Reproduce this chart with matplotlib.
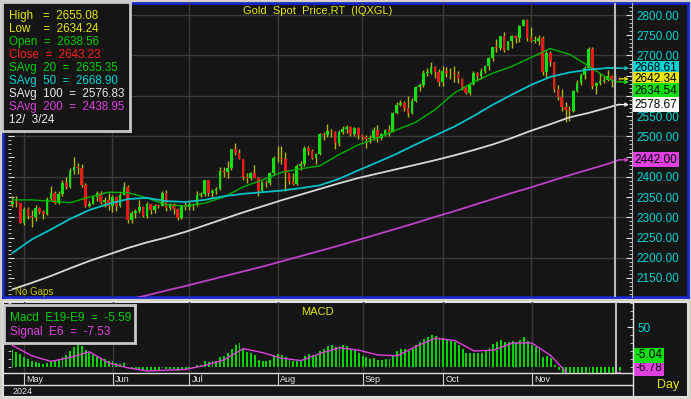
import numpy as np
import pandas as pd
import matplotlib
matplotlib.use('Agg')
import matplotlib.pyplot as plt
from matplotlib.ticker import MultipleLocator

plt.rcParams['font.family'] = ['Liberation Sans', 'DejaVu Sans']

W, H = 691, 399

# ---- data (daily bars, gold spot) ----
dates = pd.bdate_range('2024-04-26', '2024-12-04')

opens = [2332, 2337, 2335, 2286, 2320, 2303, 2301, 2324, 2314, 2309,
         2346, 2360, 2336, 2358, 2386, 2376, 2415, 2425, 2421, 2379,
         2329, 2334, 2351, 2361, 2338, 2343, 2327, 2350, 2327, 2355,
         2375, 2294, 2311, 2316, 2325, 2303, 2333, 2319, 2329, 2328,
         2360, 2322, 2334, 2320, 2298, 2327, 2326, 2332, 2330, 2356,
         2357, 2392, 2359, 2364, 2371, 2415, 2411, 2422, 2469, 2459,
         2445, 2400, 2396, 2409, 2398, 2365, 2387, 2384, 2410, 2447,
         2446, 2443, 2409, 2390, 2383, 2427, 2431, 2472, 2465, 2447,
         2456, 2507, 2504, 2514, 2512, 2484, 2512, 2518, 2524, 2505,
         2521, 2503, 2499, 2493, 2495, 2516, 2497, 2506, 2516, 2512,
         2558, 2578, 2582, 2569, 2559, 2587, 2622, 2628, 2657, 2657,
         2672, 2658, 2634, 2662, 2657, 2656, 2653, 2643, 2622, 2608,
         2630, 2656, 2649, 2662, 2674, 2693, 2721, 2719, 2748, 2714,
         2736, 2747, 2743, 2774, 2788, 2744, 2736, 2736, 2742, 2659,
         2707, 2684, 2618, 2598, 2572, 2565, 2563, 2611, 2631, 2651,
         2670, 2715, 2624, 2633, 2638, 2639, 2650, 2638.56, 2643]
highs = [2352, 2353, 2336, 2326, 2326, 2319, 2330, 2326, 2318, 2351,
         2378, 2364, 2365, 2393, 2400, 2422, 2450, 2433, 2432, 2385,
         2341, 2353, 2364, 2364, 2351, 2360, 2354, 2352, 2361, 2388,
         2380, 2316, 2320, 2342, 2327, 2337, 2333, 2334, 2332, 2365,
         2368, 2335, 2336, 2323, 2330, 2339, 2338, 2335, 2364, 2363,
         2392, 2393, 2370, 2375, 2424, 2425, 2440, 2469, 2483, 2470,
         2445, 2410, 2412, 2430, 2400, 2390, 2393, 2411, 2451, 2477,
         2477, 2461, 2410, 2410, 2431, 2438, 2476, 2477, 2469, 2460,
         2509, 2510, 2531, 2519, 2513, 2517, 2525, 2528, 2525, 2524,
         2524, 2506, 2503, 2504, 2523, 2529, 2509, 2518, 2527, 2560,
         2586, 2590, 2587, 2600, 2595, 2625, 2632, 2664, 2670, 2685,
         2674, 2666, 2673, 2671, 2668, 2673, 2661, 2645, 2625, 2634,
         2661, 2658, 2669, 2676, 2696, 2722, 2740, 2749, 2758, 2736,
         2750, 2750, 2775, 2790, 2790, 2770, 2749, 2750, 2749, 2710,
         2710, 2685, 2626, 2618, 2584, 2574, 2614, 2639, 2656, 2673,
         2721, 2720, 2634, 2657, 2649, 2665, 2651, 2655.08, 2646]
lows = [2326, 2325, 2285, 2281, 2295, 2277, 2292, 2308, 2297, 2306,
        2341, 2332, 2334, 2353, 2370, 2372, 2408, 2407, 2374, 2326,
        2325, 2332, 2340, 2333, 2326, 2318, 2314, 2315, 2326, 2354,
        2286, 2286, 2298, 2311, 2301, 2299, 2308, 2310, 2322, 2328,
        2316, 2317, 2309, 2293, 2297, 2319, 2318, 2319, 2328, 2350,
        2353, 2352, 2351, 2358, 2367, 2400, 2398, 2418, 2455, 2443,
        2393, 2384, 2392, 2397, 2353, 2363, 2376, 2380, 2404, 2436,
        2432, 2364, 2382, 2380, 2380, 2418, 2428, 2455, 2443, 2431,
        2453, 2490, 2499, 2498, 2470, 2477, 2507, 2508, 2501, 2502,
        2493, 2492, 2472, 2483, 2491, 2485, 2491, 2500, 2500, 2510,
        2556, 2574, 2562, 2547, 2555, 2584, 2613, 2621, 2649, 2655,
        2645, 2625, 2624, 2647, 2642, 2634, 2632, 2615, 2604, 2603,
        2627, 2638, 2641, 2656, 2665, 2686, 2708, 2713, 2708, 2713,
        2718, 2730, 2734, 2773, 2737, 2734, 2730, 2725, 2652, 2644,
        2673, 2610, 2589, 2563, 2536, 2537, 2561, 2610, 2627, 2643,
        2668, 2617, 2605, 2628, 2632, 2636, 2622, 2634.24, 2639]
closes = [2337, 2335, 2286, 2320, 2303, 2301, 2324, 2314, 2309, 2346,
          2360, 2336, 2358, 2386, 2376, 2415, 2425, 2421, 2379, 2329,
          2334, 2351, 2361, 2338, 2343, 2327, 2350, 2327, 2355, 2375,
          2294, 2311, 2316, 2325, 2303, 2333, 2319, 2329, 2328, 2360,
          2322, 2334, 2320, 2298, 2327, 2326, 2332, 2330, 2356, 2357,
          2392, 2359, 2364, 2371, 2415, 2411, 2422, 2469, 2459, 2445,
          2400, 2396, 2409, 2398, 2365, 2387, 2384, 2410, 2447, 2446,
          2443, 2409, 2390, 2383, 2427, 2431, 2472, 2465, 2447, 2456,
          2507, 2504, 2514, 2512, 2484, 2512, 2518, 2524, 2505, 2521,
          2503, 2499, 2493, 2495, 2516, 2497, 2506, 2516, 2512, 2558,
          2578, 2582, 2569, 2559, 2587, 2622, 2628, 2657, 2657, 2672,
          2658, 2634, 2662, 2657, 2656, 2653, 2643, 2622, 2608, 2630,
          2656, 2649, 2662, 2674, 2693, 2721, 2719, 2748, 2714, 2736,
          2747, 2743, 2774, 2788, 2744, 2736, 2736, 2742, 2659, 2707,
          2684, 2618, 2598, 2572, 2565, 2563, 2611, 2631, 2651, 2670,
          2715, 2624, 2633, 2638, 2639, 2650, 2639, 2643.23, 2642.34]

# moving averages every 5 bars (+ the last two bars)
ma_idx = list(range(0, 156, 5)) + [157, 158]
sma20 = [2343, 2343, 2340, 2336, 2350, 2362, 2361, 2348, 2331, 2328,
         2335, 2350, 2375, 2392, 2411, 2420, 2427, 2455, 2479, 2496,
         2516, 2535, 2566, 2607, 2634, 2656, 2673, 2695, 2717, 2703,
         2674, 2643, 2635.35, 2634.54]
sma50 = [2212, 2245, 2270, 2296, 2318, 2333, 2345, 2348, 2340, 2338,
         2343, 2352, 2358, 2362, 2366, 2372, 2379, 2395, 2416, 2436,
         2457, 2480, 2502, 2524, 2550, 2578, 2603, 2627, 2647, 2658,
         2665, 2669, 2668.90, 2668.61]
sma100 = [2122, 2138, 2155, 2174, 2192, 2208, 2224, 2238, 2250, 2264,
          2280, 2296, 2312, 2327, 2342, 2356, 2370, 2384, 2397, 2408,
          2419, 2430, 2441, 2453, 2466, 2480, 2496, 2514, 2530, 2547,
          2558, 2571, 2576.83, 2578.67]
sma200 = [2030, 2041, 2052, 2063, 2074, 2085, 2096, 2107, 2119, 2130,
          2142, 2154, 2166, 2178, 2191, 2204, 2217, 2230, 2244, 2258,
          2272, 2286, 2301, 2315, 2330, 2345, 2360, 2374, 2389, 2404,
          2418, 2432, 2438.95, 2442.00]

macd = [21, 19, 16, 13, 10, 7, 6, 5, 4, 5,
        7, 7, 9, 13, 15, 20, 25, 27, 26, 21,
        17, 15, 13, 11, 10, 8, 7, 5, 4, 5,
        0, -2, -3, -3, -5, -4, -5, -4, -4, -1,
        -3, -3, -3, -5, -3, -3, -2, -1, 2, 3,
        7, 6, 7, 8, 13, 14, 17, 23, 28, 30,
        24, 19, 17, 15, 9, 8, 7, 9, 14, 16,
        15, 12, 9, 7, 8, 9, 14, 16, 15, 15,
        20, 23, 26, 27, 25, 26, 27, 26, 23, 21,
        17, 14, 12, 10, 11, 9, 9, 10, 10, 15,
        20, 23, 22, 20, 23, 28, 31, 35, 37, 40,
        39, 35, 36, 35, 33, 31, 28, 23, 18, 17,
        18, 17, 18, 20, 24, 29, 31, 34, 31, 31,
        32, 31, 34, 37, 32, 28, 25, 23, 13, 14,
        11, 3, -4, -10, -15, -20, -22, -22, -20, -17,
        -14, -10, -11, -11, -10, -9, -8, -5.59, -5.04]
signal = [27, 14, 7, 12, 19, 5, -1, -5, -4, -3,
          2, 9, 23, 18, 11, 8, 17, 24, 21, 15,
          14, 26, 36, 33, 20, 21, 30, 30, 14, -12,
          -16, -11, -7.53, -6.78]

cursor = 157  # 12/3/24

# ---- colours ----
BG = '#151515'
GRID = '#3a3a3a'
YEL = '#e6e600'
GRN = '#00d000'
RED = '#ff2020'
CYAN = '#00d4d4'
WHITE = '#e8e8e8'
MAG = '#e040e0'


def fr(x0, y0, x1, y1):
    return [x0 / W, 1 - y1 / H, (x1 - x0) / W, (y1 - y0) / H]


def ftext(x, y, s, **kw):
    kw.setdefault('va', 'center')
    kw.setdefault('zorder', 20)
    fig.text(x / W, 1 - y / H, s, **kw)


fig = plt.figure(figsize=(W / 100, H / 100), dpi=100, facecolor='#d4d0c8')

# panel backgrounds
bg1 = fig.add_axes(fr(3, 3, 688, 297))
bg1.set_facecolor(BG)
bg1.set_xticks([]); bg1.set_yticks([])
for s in bg1.spines.values():
    s.set_color('#1828c8'); s.set_linewidth(2)

bg2 = fig.add_axes(fr(3, 302, 688, 397))
bg2.set_facecolor(BG)
bg2.set_xticks([]); bg2.set_yticks([])
for s in bg2.spines.values():
    s.set_color('#e0e0e0'); s.set_linewidth(1.5)

x = np.arange(len(dates))
xlim = (-1.17, 161.3)
month_starts = [i for i in range(1, len(dates)) if dates[i].month != dates[i - 1].month
                and dates[i].month <= 11]

# ---- price panel ----
ax = fig.add_axes(fr(8, 3, 632, 297))
ax.patch.set_visible(False)
ax.set_xlim(*xlim)
ax.set_ylim(2103, 2829.7)
for s in ['top', 'left', 'bottom']:
    ax.spines[s].set_visible(False)
ax.spines['right'].set_color('#b0b0b0')
ax.spines['right'].set_linewidth(0.8)

for lvl in range(2200, 2801, 100):
    ax.axhline(lvl, color=GRID, lw=1, zorder=0)
for m in month_starts:
    ax.axvline(m, color=GRID, lw=1, zorder=0)

o = np.array(opens); h = np.array(highs); l = np.array(lows); c = np.array(closes)
body_col = np.where(c >= o, '#10e010', '#f01818').astype(object)
body_col[cursor] = '#3838e8'
bottom = np.minimum(o, c)
height = np.maximum(np.abs(c - o), 1.8)
ax.vlines(x, l, h, color='#b4b400', lw=1, zorder=2)
ax.bar(x, height, bottom=bottom, width=0.7, color=list(body_col), zorder=3)

ax.plot(ma_idx, sma20, color='#00b400', lw=1, zorder=4)
ax.plot(ma_idx, sma50, color='#00c0c8', lw=1.3, zorder=4)
ax.plot(ma_idx, sma100, color='#d8d8d8', lw=1.3, zorder=4)
ax.plot(ma_idx, sma200, color='#c040c8', lw=1.3, zorder=4)

ax.axvline(cursor, color='#b8b8b8', lw=1.5, zorder=5)

# last-value tags on the right (stacked so they don't collide)
tags = [(sma50[-1], CYAN), (closes[-1], YEL), (sma20[-1], '#10e010'),
        (sma100[-1], '#ffffff'), (sma200[-1], MAG)]
tags.sort(key=lambda t: -t[0])
tag_pos = []
prev = None
ytr = ax.get_yaxis_transform()
for v, col in tags:
    pos = v if prev is None else min(v, prev - 28)
    prev = pos
    tag_pos.append(pos)
    ax.text(1.004, pos, '%.2f' % v, transform=ytr, ha='left',
            va='center', fontsize=8.5, color='black', zorder=6, clip_on=False,
            bbox=dict(boxstyle='square,pad=0.12', fc=col, ec='none'))
    ax.annotate('', xy=(0.995, v), xytext=(0.981, v), xycoords=ytr, textcoords=ytr,
                arrowprops=dict(arrowstyle='->', color=col, lw=0.9,
                                mutation_scale=5, shrinkA=0, shrinkB=0), zorder=6)

# tick labels hidden where a tag covers them
yt = np.arange(2150, 2801, 50)
ax.yaxis.tick_right()
ax.set_yticks(yt)
ax.set_yticklabels(['' if any(abs(t - p) < 24 for p in tag_pos) else '%.2f' % t for t in yt])
ax.yaxis.set_minor_locator(MultipleLocator(10))
ax.tick_params(axis='y', which='both', direction='in', colors='#e0e0e0',
               labelcolor=CYAN, labelsize=8.5, pad=3, left=True)
ax.tick_params(axis='y', which='major', length=4)
ax.tick_params(axis='y', which='minor', length=2)
ax.set_xticks([])

# ---- MACD panel ----
mx = fig.add_axes(fr(8, 302, 633, 373))
mx.patch.set_visible(False)
mx.set_xlim(*xlim)
mx.set_ylim(-7.5, 81.25)
for s in ['top', 'left', 'bottom']:
    mx.spines[s].set_visible(False)
mx.spines['right'].set_color('#e0e0e0')
for m in month_starts:
    mx.axvline(m, color=GRID, lw=1, zorder=0)
mx.bar(x, macd, width=0.5, color='#00d400', zorder=2)
mx.plot(ma_idx, signal, color=MAG, lw=1, zorder=3)
mx.axvline(cursor, color='#b8b8b8', lw=1.5, zorder=5)

mx.yaxis.tick_right()
mx.set_yticks([50])
mx.yaxis.set_minor_locator(MultipleLocator(10))
mx.tick_params(axis='y', which='both', direction='in', colors='#e0e0e0',
               labelcolor=CYAN, labelsize=8.5, pad=3, left=True)
mx.tick_params(axis='y', which='major', length=4)
mx.tick_params(axis='y', which='minor', length=2)
mx.set_xticks([])

mtags = [(signal[-1], MAG), (macd[-1], '#10e010')]
mtags.sort(key=lambda t: t[0])
prev = None
for v, col in mtags:
    pos = max(v, -1.5) if prev is None else max(v, prev + 16)
    prev = pos
    mx.text(1.004, pos, '%.2f' % v, transform=mx.get_yaxis_transform(), ha='left',
            va='center', fontsize=8.5, color='black', zorder=6, clip_on=False,
            bbox=dict(boxstyle='square,pad=0.12', fc=col, ec='none'))

# date row
fig.add_artist(plt.Line2D([3 / W, 633 / W], [1 - 373 / H] * 2, color='#e0e0e0', lw=1))
fig.add_artist(plt.Line2D([3 / W, 633 / W], [1 - 385 / H] * 2, color='#e0e0e0', lw=1))
fig.add_artist(plt.Line2D([633 / W] * 2, [1 - 302 / H, 1 - 397 / H], color='#e0e0e0', lw=1))
for m in month_starts:
    mx.plot([m, m], [0, -12 / 71], transform=mx.get_xaxis_transform(), clip_on=False,
            color='#d0d0d0', lw=0.8)
    mx.text(m + 0.5, -6 / 71, dates[m].strftime('%b'), transform=mx.get_xaxis_transform(),
            ha='left', va='center', fontsize=6.5, color=WHITE, clip_on=False)
ftext(13, 391, str(dates[0].year), fontsize=6.5, color=WHITE)
ftext(657, 385, 'Day', fontsize=9, color=YEL)

# ---- text overlays ----
ftext(318, 11.5, 'Gold  Spot  Price,RT  (IQXGL)', fontsize=8, color=YEL, ha='center')
ftext(15, 292, 'No Gaps', fontsize=7, color='#c8c800')
ftext(317, 312, 'MACD', fontsize=8, color=YEL, ha='center')

lg = fig.add_axes(fr(2, 2, 130, 131))
lg.set_facecolor(BG)
lg.set_xticks([]); lg.set_yticks([])
for s in lg.spines.values():
    s.set_color('#c8c8c8'); s.set_linewidth(2)

d = dates[cursor]
legend_lines = [
    ('High   =  %.2f' % highs[cursor], YEL),
    ('Low    =  %.2f' % lows[cursor], YEL),
    ('Open  =  %.2f' % opens[cursor], GRN),
    ('Close  =  %.2f' % closes[cursor], RED),
    ('SAvg  20  =  %.2f' % sma20[-2], GRN),
    ('SAvg  50  =  %.2f' % sma50[-2], CYAN),
    ('SAvg  100  =  %.2f' % sma100[-2], WHITE),
    ('SAvg  200  =  %.2f' % sma200[-2], MAG),
    ('%d/  %d/%02d' % (d.month, d.day, d.year % 100), WHITE),
]
for k, (s, col) in enumerate(legend_lines):
    ftext(9, 15.5 + 13.1 * k, s, fontsize=8.4, color=col)

mg = fig.add_axes(fr(4, 305, 135, 343))
mg.set_facecolor(BG)
mg.set_xticks([]); mg.set_yticks([])
for s in mg.spines.values():
    s.set_color('#c8c8c8'); s.set_linewidth(2)
ftext(10, 318, 'Macd  E19-E9  =  %.2f' % macd[cursor], fontsize=8.5, color=GRN)
ftext(10, 332, 'Signal  E6  =  %.2f' % signal[-2], fontsize=8.5, color=MAG)

fig.savefig('out.png', dpi=100, facecolor=fig.get_facecolor())
